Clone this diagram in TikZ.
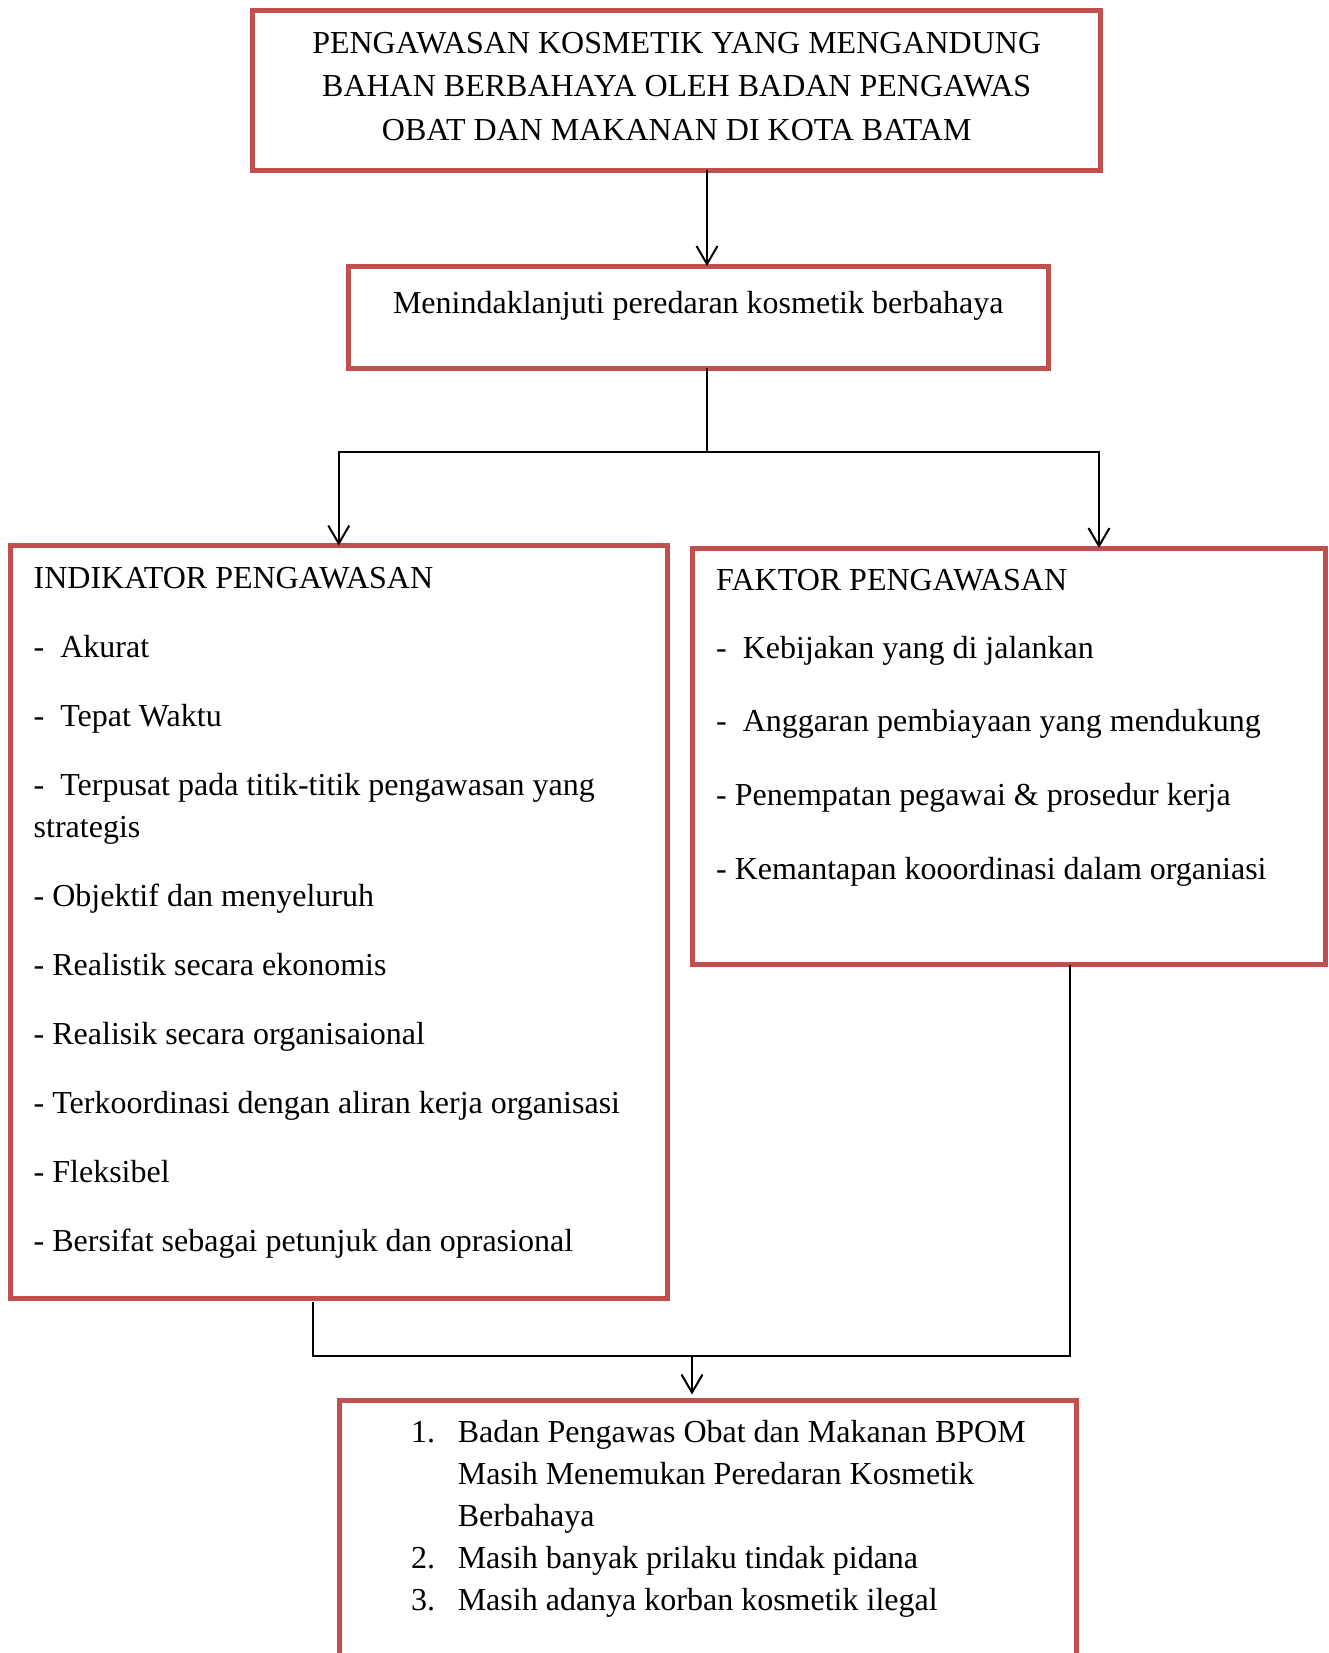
\documentclass[tikz,border=0pt]{standalone}
\usepackage{fontspec}
\setmainfont{Liberation Serif}
\usepackage{xcolor}
\definecolor{bingkai}{RGB}{192,80,77}
\usepackage{tikz}
\usetikzlibrary{arrows.meta,positioning,calc}
\tikzset{
  kotak/.style={draw=bingkai,line width=5pt,outer sep=0pt,inner sep=0pt},
  teks/.style={inner sep=0pt,font=\fontsize{32}{42}\selectfont,align=left},
  garis/.style={line width=2pt},
  panah/.style={-{Straight Barb[length=18pt,width=21pt]},line width=2pt},
}

\begin{document}
\begin{tikzpicture}[x=1pt,y=-1pt]
\useasboundingbox (0,0) rectangle (1329,1653);
\clip (0,0) rectangle (1329,1653);
% kotak-kotak
\node[kotak,minimum width=848pt,minimum height=160pt] (judul) at (676.75,90.5) {};
\node[kotak,minimum width=699.5pt,minimum height=102pt] (tindak) at (698.25,317) {};
\node[kotak,minimum width=656.5pt,minimum height=752.5pt] (indikator) at (338.75,921.75) {};
\node[kotak,minimum width=633.5pt,minimum height=416.5pt] (faktor) at (1008.75,756.25) {};
\node[kotak,minimum width=737pt,minimum height=320pt] (hasil) at (707.5,1560.5) {};
% isi teks (anchor base = baris terakhir)
\node[teks,align=center,anchor=base,font=\fontsize{32}{43.4}\selectfont] (tjudul)
  at ($(judul.north)+(0,129.6)$)
  {PENGAWASAN KOSMETIK YANG MENGANDUNG\\BAHAN BERBAHAYA OLEH BADAN PENGAWAS\\OBAT DAN MAKANAN DI KOTA BATAM};
\node[teks,anchor=base] (ttindak) at ($(tindak.north)+(0,47.3)$)
  {Menindaklanjuti peredaran kosmetik berbahaya};
\node[teks,anchor=base west] (tindikator) at ($(indikator.north west)+(23,705.5)$)
  {INDIKATOR PENGAWASAN\\[27pt]-\ \ Akurat\\[27pt]-\ \ Tepat Waktu\\[27pt]%
   -\ \ Terpusat pada titik-titik pengawasan yang\\strategis\\[27pt]%
   - Objektif dan menyeluruh\\[27pt]- Realistik secara ekonomis\\[27pt]%
   - Realisik secara organisaional\\[27pt]- Terkoordinasi dengan aliran kerja organisasi\\[27pt]%
   - Fleksibel\\[27pt]- Bersifat sebagai petunjuk dan oprasional};
\node[teks,anchor=base west] (tfaktor) at ($(faktor.north west)+(24,331)$)
  {FAKTOR PENGAWASAN\\[26pt]-\ \ Kebijakan yang di jalankan\\[31.5pt]%
   -\ \ Anggaran pembiayaan yang mendukung\\[31.5pt]%
   - Penempatan pegawai \& prosedur kerja\\[32pt]%
   - Kemantapan kooordinasi dalam organiasi};
\node[teks,anchor=base west] (thasil) at ($(hasil.north west)+(72,210.2)$)
  {\makebox[46.6pt][l]{1.}Badan Pengawas Obat dan Makanan BPOM\\
   \hspace*{46.6pt}Masih Menemukan Peredaran Kosmetik\\
   \hspace*{46.6pt}Berbahaya\\
   \makebox[46.6pt][l]{2.}Masih banyak prilaku tindak pidana\\
   \makebox[46.6pt][l]{3.}Masih adanya korban kosmetik ilegal};
% panah
\coordinate (poros) at (707,0);
\coordinate (cabang) at (1099,0);
\coordinate (kiri) at (313,0);
\coordinate (kanan) at (1070,0);
\coordinate (gabung) at (692,1356);
\draw[panah] (judul.south -| poros) -- (tindak.north -| poros);
\draw[garis] (tindak.south -| poros) -- ++(0,83.7) coordinate (pisah);
\draw[panah] (pisah) -| (indikator.north);
\draw[panah] (pisah) -| (faktor.north -| cabang);
\draw[garis] ($(indikator.south -| kiri)+(0,4)$) -- (kiri |- gabung)
  -- (kanan |- gabung) -- (faktor.south -| kanan);
\draw[panah,shorten >=6pt] (gabung) -- (hasil.north -| gabung);
\end{tikzpicture}
\end{document}
